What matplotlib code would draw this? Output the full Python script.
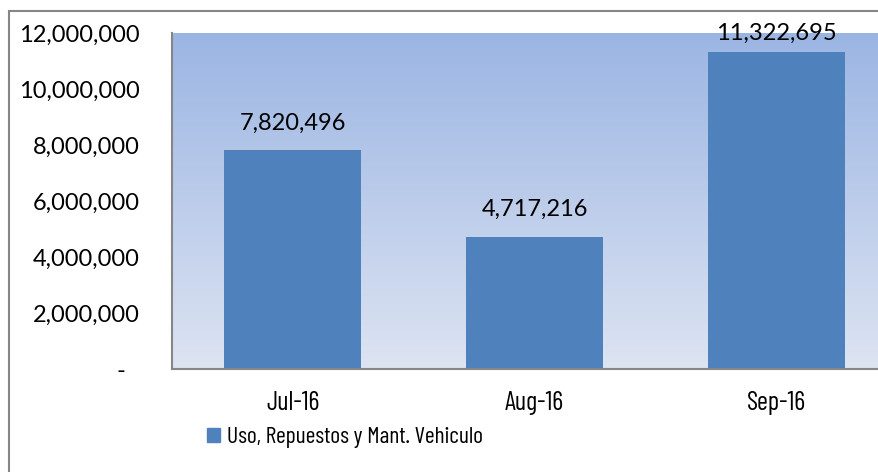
import matplotlib.pyplot as plt
import numpy as np
from matplotlib.colors import LinearSegmentedColormap
from matplotlib.patches import Rectangle
from matplotlib import transforms

months = ["Jul-16", "Aug-16", "Sep-16"]
values = [7820496, 4717216, 11322695]
series_name = "Uso, Repuestos y Mant. Vehiculo"
y_ticks = [0, 2000000, 4000000, 6000000, 8000000, 10000000, 12000000]

W, H = 879, 472
plt.rcParams["font.family"] = ["Lato", "DejaVu Sans"]
narrow = ["Barlow Condensed", "Lato", "DejaVu Sans"]
fig = plt.figure(figsize=(W / 100, H / 100), dpi=100)

# plot area runs past the right edge, like the cropped original
left, right, top, bottom = 172, 897, 33, 369
ax = fig.add_axes([left / W, 1 - bottom / H, (right - left) / W, (bottom - top) / H])
ax.set_xlim(-0.5, 2.5)
ax.set_ylim(0, 12000000)

# gradient background of the plot area
cmap = LinearSegmentedColormap.from_list("bg", ["#dde4f2", "#9bb5e3"])
grad = np.linspace(0, 1, 256).reshape(-1, 1)
ax.imshow(grad, cmap=cmap, origin="lower", aspect="auto",
          extent=(-0.5, 2.5, 0, 12000000), zorder=0)

x = np.arange(len(months))
ax.bar(x, values, width=0.566, color="#4f81bd", zorder=2)

for xi, v in zip(x, values):
    # excel pulls the top label down so it stays inside the chart
    off = 19.5 if v < 10000000 else 13.7
    ax.annotate(f"{v:,}", (xi, v), xytext=(0, off), textcoords="offset points",
                ha="center", va="center", fontsize=17, color="black", zorder=3)

ax.set_xticks(x)
ax.set_xticklabels(months, fontsize=19, family=narrow, weight="normal")
ax.set_yticks(y_ticks)
ax.set_yticklabels([f"{t:,}" if t else "-" for t in y_ticks], fontsize=17)
ax.tick_params(axis="y", length=0, pad=23)
ax.tick_params(axis="x", length=0, pad=16)
zero_lbl = ax.get_yticklabels()[0]
zero_lbl.set_transform(zero_lbl.get_transform() +
                       transforms.ScaledTranslation(-15 / 100, 0, fig.dpi_scale_trans))

for s in ["top", "right"]:
    ax.spines[s].set_visible(False)
for s in ["left", "bottom"]:
    ax.spines[s].set_color("#868686")
    ax.spines[s].set_linewidth(1.5)

handle = Rectangle((0, 0), 1, 1, color="#4f81bd")
fig.legend([handle], [series_name], loc="center", bbox_to_anchor=(0.392, 1 - 438 / H),
           frameon=False, prop={"family": narrow, "size": 17, "weight": "normal"},
           handlelength=0.55, handleheight=0.55, handletextpad=0.3)

# outer chart border
fig.patches.append(Rectangle((9 / W, -0.1), 1.2, 1.1 - 11 / H, transform=fig.transFigure,
                             fill=False, edgecolor="#868686", linewidth=1.5))

fig.savefig("out.png", dpi=100)
